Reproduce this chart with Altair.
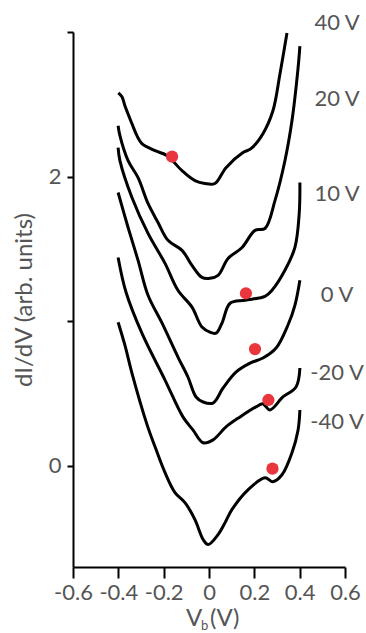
import altair as alt
import pandas as pd

# ---- data (Vb in V, dI/dV in arb. units) ----
series_names = ["40 V", "20 V", "10 V", "0 V", "-20 V", "-40 V"]

vb_40 = [-0.40, -0.384, -0.371, -0.340, -0.318, -0.296, -0.238, -0.185, -0.119, -0.062, -0.018,
         0.026, 0.075, 0.150, 0.185, 0.238, 0.282, 0.313, 0.344]
didv_40 = [2.579, 2.552, 2.490, 2.366, 2.283, 2.228, 2.179, 2.145, 2.041, 1.972, 1.952,
           1.952, 2.062, 2.166, 2.193, 2.297, 2.455, 2.710, 2.993]

vb_20 = [-0.401, -0.393, -0.357, -0.313, -0.269, -0.225, -0.181, -0.119, -0.075, -0.031, 0.004,
         0.040, 0.084, 0.146, 0.203, 0.247, 0.291, 0.335, 0.366, 0.393, 0.401]
didv_20 = [2.352, 2.283, 2.110, 1.993, 1.814, 1.683, 1.559, 1.490, 1.386, 1.303, 1.297,
           1.317, 1.434, 1.510, 1.628, 1.641, 1.834, 2.110, 2.386, 2.752, 2.903]

vb_10 = [-0.401, -0.393, -0.340, -0.269, -0.194, -0.137, -0.075, -0.031, 0.004, 0.031, 0.057,
         0.093, 0.159, 0.247, 0.278, 0.335, 0.379, 0.398, 0.401]
didv_10 = [2.200, 2.110, 1.855, 1.607, 1.400, 1.214, 1.097, 0.959, 0.924, 0.917, 0.986,
           1.124, 1.145, 1.172, 1.214, 1.352, 1.510, 1.745, 1.959]

vb_0 = [-0.401, -0.357, -0.313, -0.269, -0.207, -0.137, -0.093, -0.057, -0.026, 0.018, 0.062,
        0.119, 0.181, 0.238, 0.296, 0.348, 0.379, 0.401]
didv_0 = [1.890, 1.648, 1.421, 1.179, 0.986, 0.752, 0.614, 0.476, 0.441, 0.434, 0.538,
          0.648, 0.710, 0.745, 0.814, 0.972, 1.110, 1.283]

vb_m20 = [-0.401, -0.366, -0.296, -0.194, -0.115, -0.071, -0.026, 0.018, 0.075, 0.137, 0.207,
          0.238, 0.269, 0.326, 0.384, 0.401]
didv_m20 = [1.441, 1.200, 0.917, 0.593, 0.338, 0.248, 0.159, 0.179, 0.269, 0.338, 0.407,
            0.428, 0.386, 0.476, 0.545, 0.676]

vb_m40 = [-0.401, -0.371, -0.340, -0.273, -0.238, -0.194, -0.150, -0.106, -0.062, -0.026, -0.004,
          0.040, 0.071, 0.101, 0.172, 0.247, 0.282, 0.322, 0.366, 0.393, 0.401]
didv_m40 = [0.993, 0.834, 0.641, 0.283, 0.131, -0.048, -0.186, -0.255, -0.372, -0.510, -0.545,
            -0.476, -0.393, -0.303, -0.166, -0.083, -0.110, -0.062, 0.090, 0.248, 0.386]

# red markers
dot_vb = [-0.163, 0.163, 0.203, 0.262, 0.280]
dot_didv = [2.138, 1.193, 0.807, 0.455, -0.020]

# curve labels
label_vb = [0.565, 0.565, 0.565, 0.565, 0.565, 0.565]
label_didv = [3.06, 2.54, 1.88, 1.18, 0.64, 0.30]

x_ticks = [-0.6, -0.5, -0.4, -0.3, -0.2, -0.1, 0.0, 0.1, 0.2, 0.3, 0.4, 0.5, 0.6]
y_ticks = [0, 1, 2, 3]

# ---- build tables ----
rows = []
for name, xs, ys in zip(series_names,
                        [vb_40, vb_20, vb_10, vb_0, vb_m20, vb_m40],
                        [didv_40, didv_20, didv_10, didv_0, didv_m20, didv_m40]):
    for i, (a, b) in enumerate(zip(xs, ys)):
        rows.append({"series": name, "idx": i, "vb": a, "didv": b})
curves = pd.DataFrame(rows)
dots = pd.DataFrame({"vb": dot_vb, "didv": dot_didv})
labels = pd.DataFrame({"vb": label_vb, "didv": label_didv, "label": series_names})
one = pd.DataFrame({"k": [0]})

FONT = "Lato"
GRAY = "#555555"

xscale = alt.Scale(domain=[-0.6, 0.6], nice=False, zero=False)
yscale = alt.Scale(domain=[-0.7, 3.0], nice=False, zero=False)

x_axis = alt.Axis(
    values=x_ticks,
    labelExpr="round(datum.value*10) % 2 == 0 ? (abs(datum.value) < 1e-9 ? '0' : replace(format(datum.value, '.1f'), '\u2212', '-')) : ''",
    tickSize={"condition": {"test": "round(datum.value*10) % 2 == 0", "value": 11}, "value": 6},
    title=None, grid=False, domainColor="black", domainWidth=2, tickColor="black", tickWidth=2,
    labelFont=FONT, labelFontSize=22, labelColor=GRAY, labelPadding=4, labelFlush=False,
    labelOverlap=False,
)
y_axis = alt.Axis(
    values=y_ticks,
    labelExpr="datum.value == 0 ? '0' : (datum.value == 2 ? '2' : '')",
    tickSize=6, title="dI/dV (arb. units)", grid=False,
    domainColor="black", domainWidth=2, tickColor="black", tickWidth=2,
    labelFont=FONT, labelFontSize=22, labelColor=GRAY, labelPadding=6, labelFlush=False,
    titleFont=FONT, titleFontSize=24, titleColor=GRAY, titleFontWeight="normal", titlePadding=12,
)

lines = alt.Chart(curves).mark_line(color="black", strokeWidth=3, strokeJoin="round",
                                    interpolate="catmull-rom").encode(
    x=alt.X("vb:Q", scale=xscale, axis=x_axis),
    y=alt.Y("didv:Q", scale=yscale, axis=y_axis),
    detail="series:N",
    order="idx:Q",
)

points = alt.Chart(dots).mark_circle(size=150, color="#e8363c", opacity=1).encode(
    x=alt.X("vb:Q", scale=xscale),
    y=alt.Y("didv:Q", scale=yscale),
)

texts = alt.Chart(labels).mark_text(font=FONT, fontSize=22, color=GRAY, align="center",
                                    baseline="middle").encode(
    x=alt.X("vb:Q", scale=xscale),
    y=alt.Y("didv:Q", scale=yscale),
    text="label:N",
)

# x-axis title "V_b (V)" with subscript b
t_v = alt.Chart(one).mark_text(font=FONT, fontSize=24, color=GRAY, align="left",
                               baseline="alphabetic").encode(
    x=alt.value(113), y=alt.value(594), text=alt.value("V"))
t_b = alt.Chart(one).mark_text(font=FONT, fontSize=13, color=GRAY, align="left",
                               baseline="alphabetic").encode(
    x=alt.value(128), y=alt.value(598), text=alt.value("b"))
t_u = alt.Chart(one).mark_text(font=FONT, fontSize=24, color=GRAY, align="left",
                               baseline="alphabetic").encode(
    x=alt.value(137), y=alt.value(594), text=alt.value("(V)"))

chart = alt.layer(lines, points, texts, t_v, t_b, t_u).properties(
    width=272, height=535,
    autosize=alt.AutoSizeParams(type="none"),
    padding={"left": 73, "top": 32, "right": 21, "bottom": 66},
    background="white",
).configure_view(stroke=None)

chart.save("out.html", embed_options={"renderer": "svg", "actions": False})
